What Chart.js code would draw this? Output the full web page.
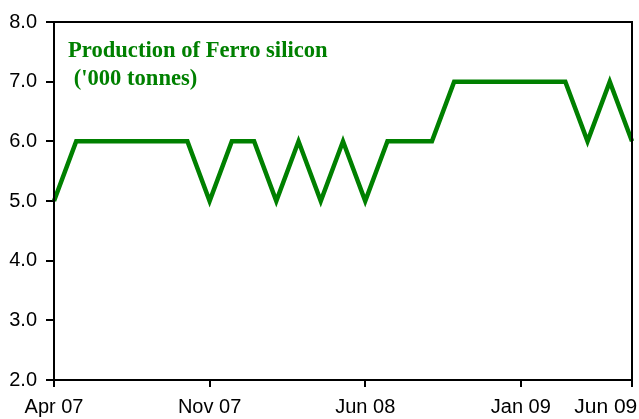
<!DOCTYPE html>
<html>
<head>
<meta charset="utf-8">
<script src="https://cdn.jsdelivr.net/npm/chart.js@4/dist/chart.umd.min.js"></script>
<style>
  body { margin: 0; background: #fff; }
  canvas { display: block; }
</style>
</head>
<body>
<canvas id="ferroChart" width="639" height="419"></canvas>
<script>
// Monthly production, Apr 07 to Jun 09
const months = [
  "Apr 07", "May 07", "Jun 07", "Jul 07", "Aug 07", "Sep 07", "Oct 07",
  "Nov 07", "Dec 07", "Jan 08", "Feb 08", "Mar 08", "Apr 08", "May 08",
  "Jun 08", "Jul 08", "Aug 08", "Sep 08", "Oct 08", "Nov 08", "Dec 08",
  "Jan 09", "Feb 09", "Mar 09", "Apr 09", "May 09", "Jun 09"
];
const production = [
  5, 6, 6, 6, 6, 6, 6,
  5, 6, 6, 5, 6, 5, 6,
  5, 6, 6, 6, 7, 7, 7,
  7, 7, 7, 6, 7, 6
];
// months that get a tick and a label on the x axis
const shownMonths = ["Apr 07", "Nov 07", "Jun 08", "Jan 09", "Jun 09"];
const titleLines = ["Production of Ferro silicon", " ('000 tonnes)"];

const green = "#008000";

// box round the plot area plus the title written inside it
const frameAndTitle = {
  id: "frameAndTitle",
  afterDraw(chart) {
    const { ctx, chartArea: a } = chart;
    ctx.save();
    ctx.strokeStyle = "#000";
    ctx.lineWidth = 2;
    ctx.strokeRect(a.left, a.top, a.right - a.left, a.bottom - a.top);
    ctx.fillStyle = green;
    ctx.font = 'bold 22.6px "Liberation Serif", "Times New Roman", serif';
    ctx.textBaseline = "alphabetic";
    ctx.fillText(titleLines[0], a.left + 14, a.top + 35);
    ctx.fillText(titleLines[1], a.left + 14, a.top + 63);
    ctx.restore();
  }
};

const ctx = document.getElementById("ferroChart").getContext("2d");
new Chart(ctx, {
  type: "line",
  data: {
    labels: months,
    datasets: [{
      data: production,
      borderColor: green,
      borderWidth: 4.5,
      pointRadius: 0,
      tension: 0,
      fill: false
    }]
  },
  options: {
    responsive: false,
    animation: false,
    layout: { padding: { top: 22, right: 7, left: 0, bottom: 0 } },
    plugins: {
      legend: { display: false },
      tooltip: { enabled: false }
    },
    scales: {
      x: {
        offset: false,
        border: { display: true, color: "#000", width: 2 },
        grid: {
          drawOnChartArea: false,
          tickLength: 7,
          lineWidth: 2,
          color: c => shownMonths.includes(months[c.index]) ? "#000" : "rgba(0,0,0,0)"
        },
        ticks: {
          autoSkip: false,
          maxRotation: 0,
          padding: 8,
          color: "#000",
          font: c => ({
            family: '"Liberation Sans", Arial, sans-serif',
            size: c.index === months.length - 1 ? 21 : 20
          }),
          callback: (v, i) => {
            const m = months[i];
            if (!shownMonths.includes(m)) return "";
            // last label sits pulled in from the right edge
            return i === months.length - 1 ? m + "         " : m;
          }
        },
        afterFit: s => {
          s.height = 39;
          s.paddingLeft = 0;
          s.paddingRight = 0;
        }
      },
      y: {
        min: 2,
        max: 8,
        border: { display: true, color: "#000", width: 2 },
        grid: {
          drawOnChartArea: false,
          tickLength: 8,
          lineWidth: 2,
          color: "#000"
        },
        ticks: {
          stepSize: 1,
          padding: 9,
          color: "#000",
          font: { family: '"Liberation Sans", Arial, sans-serif', size: 20 },
          callback: v => v.toFixed(1)
        },
        afterFit: s => {
          s.width = 54;
          s.paddingTop = 0;
          s.paddingBottom = 0;
        }
      }
    }
  },
  plugins: [frameAndTitle]
});
</script>
</body>
</html>
